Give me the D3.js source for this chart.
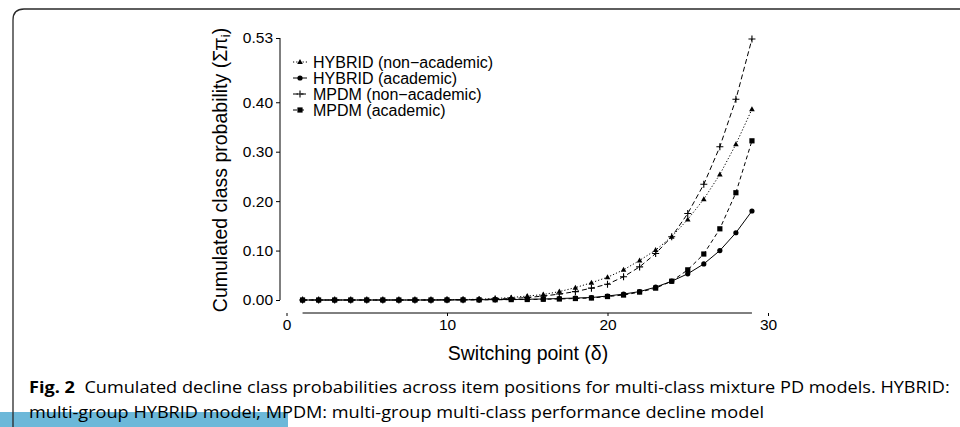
<!DOCTYPE html>
<html>
<head>
<meta charset="utf-8">
<script src="https://cdn.jsdelivr.net/npm/d3@7"></script>
<style>
  body { margin: 0; background: #fff; }
  svg { display: block; }
</style>
</head>
<body>
<script>

// switching points 1..29
var points = d3.range(1, 30);

var hybridNonAcad = [0, 0, 0, 0, 0, 0, 0, 0, 0.0002, 0.0005, 0.001, 0.0015, 0.003, 0.005, 0.008,
    0.011, 0.017, 0.025, 0.035, 0.046, 0.061, 0.080, 0.101, 0.128, 0.163, 0.204, 0.254, 0.315, 0.386];
var hybridAcad = [0, 0, 0, 0, 0, 0, 0, 0, 0, 0.0002, 0.0003, 0.0005, 0.0008, 0.001, 0.0015,
    0.002, 0.003, 0.004, 0.005, 0.008, 0.012, 0.017, 0.026, 0.038, 0.053, 0.073, 0.100, 0.136, 0.180];
var mpdmNonAcad = [0, 0, 0, 0, 0, 0, 0, 0, 0.0001, 0.0003, 0.0006, 0.001, 0.002, 0.003, 0.005,
    0.008, 0.012, 0.017, 0.024, 0.032, 0.047, 0.067, 0.094, 0.128, 0.175, 0.234, 0.310, 0.406, 0.528];
var mpdmAcad = [0, 0, 0, 0, 0, 0, 0, 0, 0, 0.0001, 0.0002, 0.0003, 0.0005, 0.0008, 0.001,
    0.0015, 0.002, 0.003, 0.004, 0.007, 0.010, 0.016, 0.024, 0.038, 0.061, 0.093, 0.144, 0.217, 0.322];

var seriesNames = ["HYBRID (non\u2212academic)", "HYBRID (academic)", "MPDM (non\u2212academic)", "MPDM (academic)"];
var yTicks = [0, 0.10, 0.20, 0.30, 0.40, 0.53];
var xTicks = [0, 10, 20, 30];

var captionBold = "Fig. 2";
var captionLine1 = "Cumulated decline class probabilities across item positions for multi-class mixture PD models. HYBRID:";
var captionLine2 = "multi-group HYBRID model; MPDM: multi-group multi-class performance decline model";

function plot_it() {
    var width = 960, height = 427;

    var svg = d3.select("body").append("svg")
        .attr("width", width)
        .attr("height", height);

    // blue tab under the caption
    svg.append("rect")
        .attr("x", 0).attr("y", 412)
        .attr("width", 288).attr("height", 15)
        .attr("fill", "#6cb8d9");

    // frame: rounded top-left corner
    svg.append("path")
        .attr("d", "M13,427 L13,20 Q13,9 24,9 L960,9")
        .attr("fill", "none")
        .attr("stroke", "#2a2a2a")
        .attr("stroke-width", 1.3);

    var x = d3.scaleLinear().domain([0, 30]).range([286.5, 768]);
    var y = d3.scaleLinear().domain([0, 0.53]).range([300, 38]);

    var font = "'Liberation Sans', Arial, sans-serif";

    // y axis
    var yAxis = svg.append("g")
        .attr("transform", "translate(280,0)")
        .call(d3.axisLeft(y).tickValues(yTicks).tickSize(4).tickPadding(3)
            .tickFormat(d3.format(".2f")));
    yAxis.select(".domain").attr("d", "M0," + y(0) + "V" + y(0.53));
    yAxis.selectAll("text").style("font-family", font).style("font-size", "15.5px").attr("fill", "#000");

    // x axis: line only over the data range
    var xAxis = svg.append("g")
        .attr("transform", "translate(0,313)")
        .call(d3.axisBottom(x).tickValues(xTicks).tickSize(3).tickPadding(3));
    xAxis.select(".domain").attr("d", "M" + x(1) + ",0H" + x(29));
    xAxis.selectAll("text").style("font-family", font).style("font-size", "15.5px").attr("fill", "#000");
    svg.selectAll(".domain, .tick line").attr("stroke", "#000");

    // axis titles
    var yTitle = svg.append("text")
        .attr("transform", "translate(227,170) rotate(-90)")
        .attr("text-anchor", "middle")
        .style("font-family", font).style("font-size", "19.5px");
    yTitle.append("tspan").text("Cumulated class probability (\u03a3\u03c0");
    yTitle.append("tspan").attr("baseline-shift", "-25%").style("font-size", "13px").text("i");
    yTitle.append("tspan").text(")");

    svg.append("text")
        .attr("x", 528).attr("y", 360)
        .attr("text-anchor", "middle")
        .style("font-family", font).style("font-size", "19.5px")
        .text("Switching point (\u03b4)");

    var series = [
        { name: seriesNames[0], values: hybridNonAcad, dash: "1.2,2", shape: "triangle" },
        { name: seriesNames[1], values: hybridAcad, dash: null, shape: "circle" },
        { name: seriesNames[2], values: mpdmNonAcad, dash: "5,3", shape: "plus" },
        { name: seriesNames[3], values: mpdmAcad, dash: "4,3", shape: "square" }
    ];

    var line = d3.line()
        .x(function (d, i) { return x(points[i]); })
        .y(function (d) { return y(d); });

    function drawMarker(g, shape) {
        if (shape === "triangle") {
            g.append("path").attr("d", "M0,-3L2.8,2L-2.8,2Z").attr("fill", "#000");
        } else if (shape === "circle") {
            g.append("circle").attr("r", 2.6).attr("fill", "#000");
        } else if (shape === "square") {
            g.append("rect").attr("x", -2.6).attr("y", -2.6).attr("width", 5.2).attr("height", 5.2).attr("fill", "#000");
        } else {
            g.append("path").attr("d", "M-3.5,0H3.5M0,-3.5V3.5").attr("stroke", "#000").attr("stroke-width", 1.1);
        }
    }

    var plot = svg.append("g");
    series.forEach(function (s) {
        plot.append("path")
            .datum(s.values)
            .attr("d", line)
            .attr("fill", "none")
            .attr("stroke", "#000")
            .attr("stroke-width", 1)
            .attr("stroke-dasharray", s.dash);
        plot.selectAll(null).data(s.values).enter().append("g")
            .attr("transform", function (d, i) { return "translate(" + x(points[i]) + "," + y(d) + ")"; })
            .each(function () { drawMarker(d3.select(this), s.shape); });
    });

    // legend
    var legend = svg.append("g");
    series.forEach(function (s, i) {
        var row = legend.append("g").attr("transform", "translate(300," + (62 + i * 16) + ")");
        row.append("line")
            .attr("x1", -7).attr("x2", 7)
            .attr("stroke", "#000")
            .attr("stroke-dasharray", s.dash);
        drawMarker(row.append("g"), s.shape);
        row.append("text")
            .attr("x", 13).attr("dy", "0.36em")
            .style("font-family", font).style("font-size", "16px")
            .text(s.name);
    });

    // caption, squeezed to the reference width
    var capFont = "'Open Sans', 'Noto Sans', sans-serif";
    var cap1 = svg.append("text")
        .attr("y", 393)
        .style("font-family", capFont).style("font-size", "16.5px");
    cap1.append("tspan").style("font-weight", "bold").text(captionBold);
    cap1.append("tspan").text("\u00a0 " + captionLine1);
    var w1 = cap1.node().getComputedTextLength();
    cap1.attr("transform", "translate(29,0) scale(" + (921 / w1) + ",1)");

    var cap2 = svg.append("text")
        .attr("y", 418)
        .style("font-family", capFont).style("font-size", "16.5px")
        .text(captionLine2);
    cap2.attr("transform", "translate(29,0) scale(" + (921 / w1) + ",1)");
}

plot_it();
</script>
</body>
</html>
